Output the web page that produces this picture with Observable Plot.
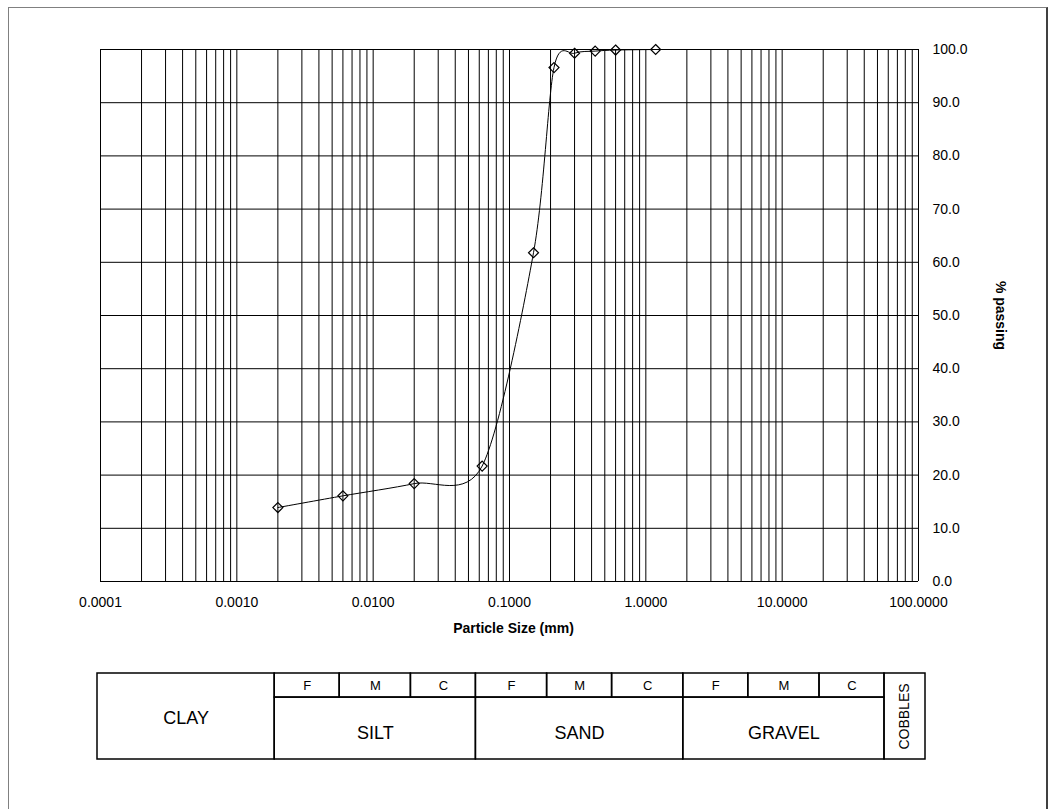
<!DOCTYPE html>
<html>
<head>
<meta charset="utf-8">
<script src="https://cdn.jsdelivr.net/npm/d3@7"></script>
<script src="https://cdn.jsdelivr.net/npm/@observablehq/plot@0.6"></script>
<style>
  html, body { margin: 0; padding: 0; background: #fff; }
  #page { position: relative; width: 1048px; height: 809px; overflow: hidden; background: #fff; }
  #border { position: absolute; left: 8px; top: 7px; width: 1037px; height: 820px;
            border-left: 1px solid #808080; border-top: 1px solid #808080; border-right: 2px solid #404040; }
  #chart { position: absolute; left: 0; top: 0; }
  #table { position: absolute; left: 0; top: 660px; }
</style>
</head>
<body>
<div id="page">
  <div id="border"></div>
  <div id="chart"></div>
  <div id="table"></div>
</div>
<script>
// ---- data ----
const sizes   = [0.002, 0.006, 0.02, 0.063, 0.15, 0.212, 0.3, 0.425, 0.6, 1.18];
const passing = [13.9, 16.1, 18.4, 21.7, 61.8, 96.6, 99.3, 99.7, 99.9, 100.0];
const xTicks  = [0.0001, 0.001, 0.01, 0.1, 1, 10, 100];
const yTicks  = [0, 10, 20, 30, 40, 50, 60, 70, 80, 90, 100];
const xLabel  = "Particle Size (mm)";
const yLabel  = "% passing";

const classNames = ["CLAY", "SILT", "SAND", "GRAVEL", "COBBLES"];
const classLo    = [0.0001, 0.002, 0.06, 2, 60];
const classHi    = [0.002, 0.06, 2, 60, 120];
const subNames   = ["F", "M", "C"];
const subEdges   = [[0.002, 0.006, 0.02, 0.06], [0.06, 0.2, 0.6, 2], [2, 6, 20, 60]];

// ---- derived tables ----
const points = sizes.map((s, i) => ({size: s, pct: passing[i]}));
const gridX = d3.range(-4, 2).flatMap(k => d3.range(1, 10).map(m => +(m * Math.pow(10, k)).toPrecision(6))).concat([100]);

const font = "'Liberation Sans', Arial, Helvetica, sans-serif";

const chart = Plot.plot({
  width: 1048,
  height: 650,
  marginLeft: 100,
  marginRight: 130,
  marginTop: 49,
  marginBottom: 69,
  style: {fontFamily: font, fontSize: "14px", color: "#000", background: "transparent"},
  x: {type: "log", domain: [0.0001, 100]},
  y: {domain: [0, 100]},
  marks: [
    Plot.ruleX(gridX, {stroke: "#000", strokeWidth: 1}),
    Plot.ruleY(yTicks, {stroke: "#000", strokeWidth: 1}),
    Plot.axisX({ticks: xTicks, tickFormat: d => d.toFixed(4), tickSize: 0, tickPadding: 16, label: null, fontSize: 14}),
    Plot.axisY({anchor: "right", ticks: yTicks, tickFormat: d => d.toFixed(1), tickSize: 0, tickPadding: 14, label: null, fontSize: 14}),
    Plot.line(points, {x: "size", y: "pct", curve: "cardinal", tension: 0.15, stroke: "#000", strokeWidth: 1}),
    Plot.dot(points, {x: "size", y: "pct", symbol: "diamond2", r: 4.5, stroke: "#000", strokeWidth: 1.2, fill: "none"}),
    Plot.text([xLabel], {frameAnchor: "bottom", lineAnchor: "middle", textAnchor: "middle", dy: 47, dx: 4, fontWeight: "bold", fontSize: 14}),
    Plot.text([yLabel], {frameAnchor: "right", lineAnchor: "middle", textAnchor: "middle", dx: 82, rotate: 90, fontWeight: "bold", fontSize: 14})
  ]
});
document.getElementById("chart").appendChild(chart);

// ---- soil classification table ----
const split = 0.72;
const mainCells = classNames.map((n, i) => ({
  name: n, lo: classLo[i], hi: classHi[i],
  full: (n === "CLAY" || n === "COBBLES")
}));
const subCells = subEdges.flatMap(edges => subNames.map((n, j) => ({name: n, lo: edges[j], hi: edges[j + 1]})));

const mid = c => Math.sqrt(c.lo * c.hi);

const table = Plot.plot({
  width: 1048,
  height: 110,
  marginLeft: 97,
  marginRight: 123,
  marginTop: 13,
  marginBottom: 11,
  style: {fontFamily: font, color: "#000", background: "transparent"},
  x: {type: "log", domain: [0.0001, 120], axis: null},
  y: {domain: [0, 1], axis: null},
  marks: [
    Plot.rect(mainCells, {x1: "lo", x2: "hi", y1: 0, y2: c => c.full ? 1 : split, stroke: "#000", strokeWidth: 1.5, fill: "none"}),
    Plot.rect(subCells, {x1: "lo", x2: "hi", y1: split, y2: 1, stroke: "#000", strokeWidth: 1.5, fill: "none"}),
    Plot.text(mainCells.filter(c => c.name === "CLAY"), {x: mid, y: 0.5, text: "name", fontSize: 18, dy: 2}),
    Plot.text(mainCells.filter(c => !c.full), {x: mid, y: split / 2, text: "name", fontSize: 18, dy: 5}),
    Plot.text(mainCells.filter(c => c.name === "COBBLES"), {x: mid, y: 0.5, text: "name", fontSize: 14, rotate: -90}),
    Plot.text(subCells, {x: mid, y: (1 + split) / 2, text: "name", fontSize: 13, dy: 0})
  ]
});
document.getElementById("table").appendChild(table);
</script>
</body>
</html>
